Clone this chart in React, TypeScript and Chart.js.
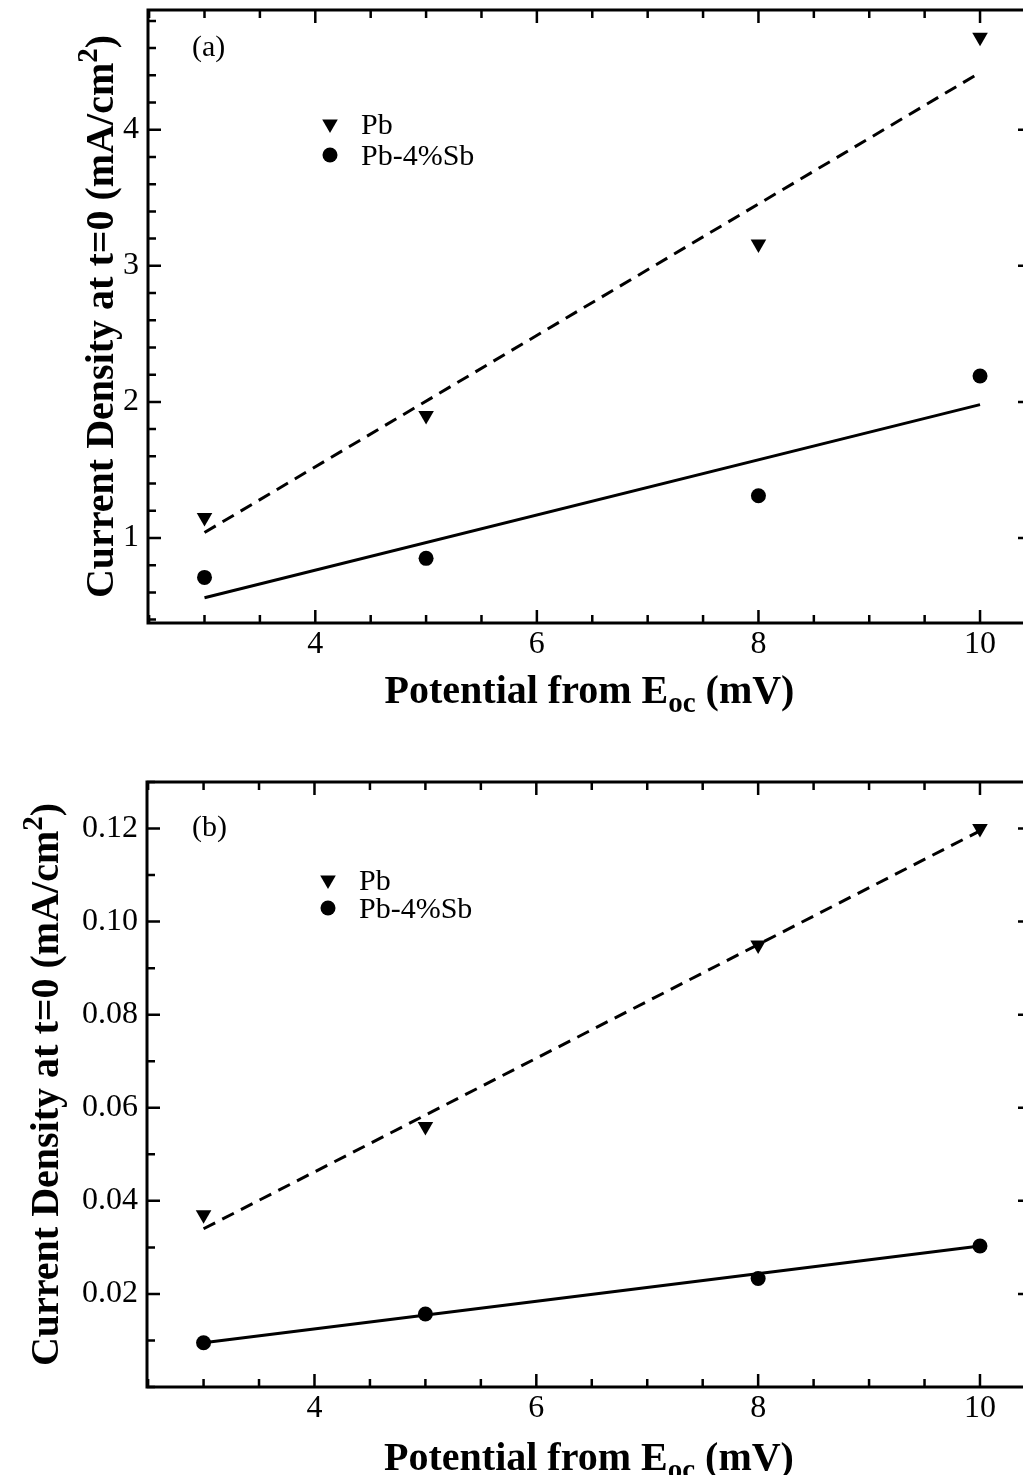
import React, { useEffect, useRef } from 'react';
import { Chart, registerables } from 'chart.js';

Chart.register(...registerables);

// ---------- data ----------
const xValues = [3, 5, 8, 10];
const fitX = [3, 10];
const seriesLabels = ['Pb', 'Pb-4%Sb'];
const xTickValues = [4, 6, 8, 10];

// panel (a)
const pbA = [1.15, 1.9, 3.16, 4.68];
const sbA = [0.71, 0.85, 1.31, 2.19];
const pbFitA = [1.04, 4.42];
const sbFitA = [0.56, 1.98];
const yTicksA = [1, 2, 3, 4];

// panel (b)
const pbB = [0.037, 0.056, 0.095, 0.12];
const sbB = [0.0095, 0.0157, 0.0233, 0.0303];
const pbFitB = [0.034, 0.1195];
const sbFitB = [0.0095, 0.0303];
const yTicksB = [0.02, 0.04, 0.06, 0.08, 0.1, 0.12];

const FONT = '"Liberation Serif", "Times New Roman", serif';

type PanelCfg = {
  tag: string;
  pb: number[];
  sb: number[];
  pbFit: number[];
  sbFit: number[];
  yTicks: number[];
  yMin: number;
  yMax: number;
  yMinor: number;
  yDecimals: number;
  xMin: number;
  xMax: number;
  xMinor: number;
  canvasTop: number;
  canvasH: number;
  canvasW: number;
  padTop: number;
  padRight: number;
  yAxisW: number;
  xAxisH: number;
  titleDy: number;
  yTitleX: number;
  tagPos: [number, number];
  legendPos: [number, number, number];
};

const panels: PanelCfg[] = [
  {
    tag: '(a)',
    pb: pbA, sb: sbA, pbFit: pbFitA, sbFit: sbFitA, yTicks: yTicksA,
    yMin: 0.375, yMax: 4.88, yMinor: 0.2, yDecimals: 0,
    xMin: 2.49, xMax: 10.46, xMinor: 0.5,
    canvasTop: 0, canvasH: 740, canvasW: 1040,
    padTop: 10, padRight: 6, yAxisW: 148, xAxisH: 117,
    titleDy: 80, yTitleX: 113,
    tagPos: [44, 46],
    legendPos: [182, 114, 31],
  },
  {
    tag: '(b)',
    pb: pbB, sb: sbB, pbFit: pbFitB, sbFit: sbFitB, yTicks: yTicksB,
    yMin: 0, yMax: 0.13, yMinor: 0.01, yDecimals: 2,
    xMin: 2.49, xMax: 10.46, xMinor: 0.5,
    canvasTop: 740, canvasH: 743, canvasW: 1040,
    padTop: 42, padRight: 6, yAxisW: 147, xAxisH: 96,
    titleDy: 83, yTitleX: 58,
    tagPos: [45, 54],
    legendPos: [181, 98, 28],
  },
];

function drawTriangle(ctx: CanvasRenderingContext2D, x: number, y: number, r: number) {
  ctx.beginPath();
  ctx.moveTo(x, y + r);
  ctx.lineTo(x - 0.866 * r, y - 0.5 * r);
  ctx.lineTo(x + 0.866 * r, y - 0.5 * r);
  ctx.closePath();
  ctx.fill();
}

function drawCircle(ctx: CanvasRenderingContext2D, x: number, y: number, r: number) {
  ctx.beginPath();
  ctx.arc(x, y, r, 0, Math.PI * 2);
  ctx.fill();
}

type Part = { text: string; font: string; dy: number };

function richWidth(ctx: CanvasRenderingContext2D, parts: Part[]) {
  let w = 0;
  for (const p of parts) {
    ctx.font = p.font;
    w += ctx.measureText(p.text).width;
  }
  return w;
}

function drawRich(ctx: CanvasRenderingContext2D, parts: Part[], startX: number, baseY: number) {
  let cx = startX;
  for (const p of parts) {
    ctx.font = p.font;
    ctx.fillText(p.text, cx, baseY + p.dy);
    cx += ctx.measureText(p.text).width;
  }
}

function steps(min: number, max: number, step: number) {
  const out: number[] = [];
  const start = Math.ceil(min / step - 1e-9);
  const end = Math.floor(max / step + 1e-9);
  for (let i = start; i <= end; i++) out.push(+(i * step).toFixed(6));
  return out;
}

const MARK_TRI = 9;
const MARK_CIRC = 7.5;

function makePlugin(cfg: PanelCfg) {
  return {
    id: 'frameAndText',
    afterDatasetsDraw(chart: any) {
      const ctx: CanvasRenderingContext2D = chart.ctx;
      const { left, right, top, bottom } = chart.chartArea;
      const xs = chart.scales.x;
      const ys = chart.scales.y;
      ctx.save();
      ctx.strokeStyle = '#000';
      ctx.lineWidth = 3;
      ctx.strokeRect(left, top, right - left, bottom - top);
      ctx.lineWidth = 2.5;
      for (const v of steps(cfg.xMin, cfg.xMax, cfg.xMinor)) {
        const major = xTickValues.some((t) => Math.abs(t - v) < 1e-6);
        const len = major ? 13 : 8;
        const px = xs.getPixelForValue(v);
        ctx.beginPath();
        ctx.moveTo(px, bottom);
        ctx.lineTo(px, bottom - len);
        ctx.moveTo(px, top);
        ctx.lineTo(px, top + len);
        ctx.stroke();
      }
      for (const v of steps(cfg.yMin, cfg.yMax, cfg.yMinor)) {
        const major = cfg.yTicks.some((t) => Math.abs(t - v) < 1e-6);
        const len = major ? 13 : 8;
        const py = ys.getPixelForValue(v);
        ctx.beginPath();
        ctx.moveTo(left, py);
        ctx.lineTo(left + len, py);
        ctx.moveTo(right, py);
        ctx.lineTo(right - len, py);
        ctx.stroke();
      }
      ctx.restore();
    },
    afterDraw(chart: any) {
      const ctx: CanvasRenderingContext2D = chart.ctx;
      const { left, right, top, bottom } = chart.chartArea;
      ctx.save();
      ctx.fillStyle = '#000';
      ctx.textBaseline = 'alphabetic';
      ctx.textAlign = 'left';

      ctx.font = `30px ${FONT}`;
      ctx.fillText(cfg.tag, left + cfg.tagPos[0], top + cfg.tagPos[1]);

      const [lx, ly, lgap] = cfg.legendPos;
      drawTriangle(ctx, left + lx, top + ly, MARK_TRI);
      drawCircle(ctx, left + lx, top + ly + lgap, MARK_CIRC);
      ctx.font = `30px ${FONT}`;
      ctx.fillText(seriesLabels[0], left + lx + 31, top + ly + 10);
      ctx.fillText(seriesLabels[1], left + lx + 31, top + ly + lgap + 10);

      const bold = `bold 40px ${FONT}`;
      const small = `bold 29px ${FONT}`;
      const xParts: Part[] = [
        { text: 'Potential from E', font: bold, dy: 0 },
        { text: 'oc', font: small, dy: 9 },
        { text: ' (mV)', font: bold, dy: 0 },
      ];
      const xw = richWidth(ctx, xParts);
      drawRich(ctx, xParts, (left + right) / 2 - xw / 2, bottom + cfg.titleDy);

      const yParts: Part[] = [
        { text: 'Current Density at t=0 (mA/cm', font: bold, dy: 0 },
        { text: '2', font: small, dy: -16 },
        { text: ')', font: bold, dy: 0 },
      ];
      const yw = richWidth(ctx, yParts);
      ctx.translate(cfg.yTitleX, (top + bottom) / 2);
      ctx.rotate(-Math.PI / 2);
      drawRich(ctx, yParts, -yw / 2, 0);
      ctx.restore();
    },
  };
}

function Panel({ cfg }: { cfg: PanelCfg }) {
  const ref = useRef<HTMLCanvasElement>(null);
  useEffect(() => {
    const pts = (ys: number[]) => xValues.map((x, i) => ({ x, y: ys[i] }));
    const fit = (ys: number[]) => fitX.map((x, i) => ({ x, y: ys[i] }));
    const chart = new Chart(ref.current as HTMLCanvasElement, {
      type: 'scatter',
      data: {
        datasets: [
          {
            label: seriesLabels[0] + ' fit',
            data: fit(cfg.pbFit),
            showLine: true,
            borderColor: '#000',
            borderWidth: 3,
            borderDash: [13, 8],
            pointRadius: 0,
          },
          {
            label: seriesLabels[1] + ' fit',
            data: fit(cfg.sbFit),
            showLine: true,
            borderColor: '#000',
            borderWidth: 3,
            pointRadius: 0,
          },
          {
            label: seriesLabels[0],
            data: pts(cfg.pb),
            showLine: false,
            pointStyle: 'triangle',
            rotation: 180,
            pointRadius: MARK_TRI,
            backgroundColor: '#000',
            borderColor: '#000',
            borderWidth: 0,
          },
          {
            label: seriesLabels[1],
            data: pts(cfg.sb),
            showLine: false,
            pointStyle: 'circle',
            pointRadius: MARK_CIRC,
            backgroundColor: '#000',
            borderColor: '#000',
            borderWidth: 0,
          },
        ],
      } as any,
      options: {
        animation: false,
        responsive: false,
        devicePixelRatio: 1,
        layout: { padding: { top: cfg.padTop, right: cfg.padRight, left: 0, bottom: 0 } },
        plugins: { legend: { display: false }, tooltip: { enabled: false } },
        scales: {
          x: {
            type: 'linear',
            min: cfg.xMin,
            max: cfg.xMax,
            grid: { display: false, drawTicks: false },
            border: { display: false },
            afterBuildTicks: (scale: any) => {
              scale.ticks = xTickValues.map((v) => ({ value: v }));
            },
            afterFit: (scale: any) => {
              scale.height = cfg.xAxisH;
              scale.paddingLeft = 0;
              scale.paddingRight = 0;
              scale.paddingTop = 0;
              scale.paddingBottom = 0;
            },
            ticks: {
              padding: 2,
              color: '#000',
              font: { family: FONT, size: 32 },
              maxRotation: 0,
              autoSkip: false,
              callback: (v: any) => String(v),
            },
          },
          y: {
            type: 'linear',
            min: cfg.yMin,
            max: cfg.yMax,
            grid: { display: false, drawTicks: false },
            border: { display: false },
            afterBuildTicks: (scale: any) => {
              scale.ticks = cfg.yTicks.map((v) => ({ value: v }));
            },
            afterFit: (scale: any) => {
              scale.width = cfg.yAxisW;
              scale.paddingLeft = 0;
              scale.paddingRight = 0;
              scale.paddingTop = 0;
              scale.paddingBottom = 0;
            },
            ticks: {
              padding: 9,
              color: '#000',
              font: { family: FONT, size: 32 },
              autoSkip: false,
              callback: (v: any) => Number(v).toFixed(cfg.yDecimals),
            },
          },
        },
      } as any,
      plugins: [makePlugin(cfg)],
    });
    return () => chart.destroy();
  }, [cfg]);
  return (
    <canvas
      ref={ref}
      width={cfg.canvasW}
      height={cfg.canvasH}
      style={{ position: 'absolute', left: 0, top: cfg.canvasTop, width: cfg.canvasW, height: cfg.canvasH }}
    />
  );
}

export default function App() {
  return (
    <div
      style={{
        position: 'relative',
        margin: -8,
        width: 1031,
        height: 1483,
        overflow: 'hidden',
        background: '#fff',
      }}
    >
      {panels.map((p) => (
        <Panel key={p.tag} cfg={p} />
      ))}
    </div>
  );
}
